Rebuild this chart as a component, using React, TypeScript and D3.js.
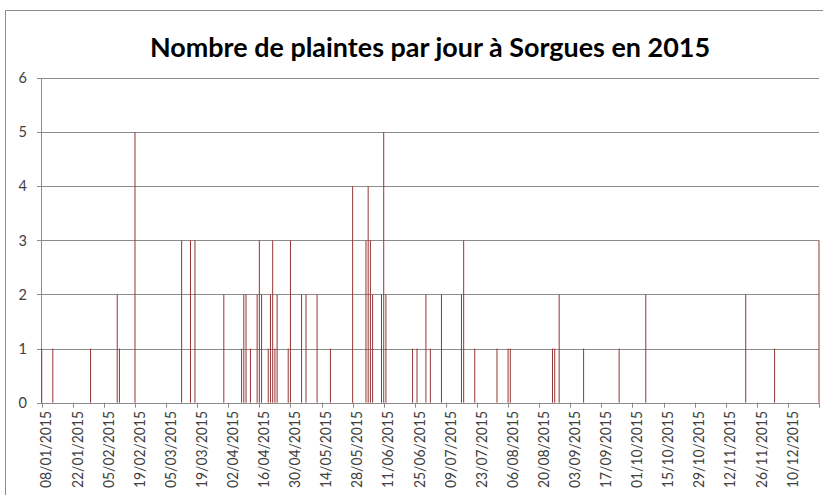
import React, { useEffect, useRef } from "react";
import * as d3 from "d3";

const chartTitle = "Nombre de plaintes par jour à Sorgues en 2015";

// jours avec au moins une plainte
const complaintDates = [
  "08/01/2015", "13/01/2015", "30/01/2015", "11/02/2015", "12/02/2015",
  "19/02/2015", "12/03/2015", "16/03/2015", "18/03/2015", "31/03/2015",
  "08/04/2015", "09/04/2015", "10/04/2015", "12/04/2015", "15/04/2015",
  "16/04/2015", "17/04/2015", "20/04/2015", "21/04/2015", "22/04/2015",
  "23/04/2015", "24/04/2015", "29/04/2015", "30/04/2015", "05/05/2015",
  "07/05/2015", "12/05/2015", "18/05/2015", "28/05/2015", "03/06/2015",
  "04/06/2015", "05/06/2015", "06/06/2015", "10/06/2015", "11/06/2015",
  "12/06/2015", "24/06/2015", "26/06/2015", "30/06/2015", "02/07/2015",
  "07/07/2015", "16/07/2015", "17/07/2015", "22/07/2015", "01/08/2015",
  "06/08/2015", "07/08/2015", "26/08/2015", "27/08/2015", "29/08/2015",
  "09/09/2015", "25/09/2015", "07/10/2015", "21/11/2015", "04/12/2015",
  "24/12/2015",
];

const complaintCounts = [
  1, 1, 1, 2, 1,
  5, 3, 3, 3, 2,
  1, 2, 2, 1, 2,
  3, 2, 1, 2, 3,
  1, 2, 1, 3, 2,
  2, 2, 1, 4, 3,
  4, 3, 2, 2, 5,
  2, 1, 1, 2, 1,
  2, 2, 3, 1, 1,
  1, 1, 1, 1, 2,
  1, 1, 2, 2, 1,
  3,
];

const axisStart = "08/01/2015";
const axisEnd = "24/12/2015";
const yTicks = [0, 1, 2, 3, 4, 5, 6];

const App = () => {
  const ref = useRef<SVGSVGElement | null>(null);

  useEffect(() => {
    const width = 823;
    const height = 495;
    const svg = d3.select(ref.current);
    svg.selectAll("*").remove();

    const parse = d3.utcParse("%d/%m/%Y");
    const fmt = d3.utcFormat("%d/%m/%Y");
    const table = complaintDates.map((d, i) => ({
      date: parse(d) as Date,
      count: complaintCounts[i],
    }));

    const start = parse(axisStart) as Date;
    const end = parse(axisEnd) as Date;
    const x = d3.scaleUtc().domain([start, end]).range([41.7, 819]);
    const y = d3.scaleLinear().domain([0, 6]).range([402.7, 78]);
    const grey = "#8c8c8c";

    svg.append("rect").attr("width", width).attr("height", height).attr("fill", "#fff");

    // cadre du graphique
    svg
      .append("path")
      .attr("d", `M5.5,${height} V10.5 H${width}`)
      .attr("fill", "none")
      .attr("stroke", grey);

    svg
      .append("text")
      .attr("x", 430)
      .attr("y", 57)
      .attr("text-anchor", "middle")
      .attr("font-family", "Lato, 'Open Sans', sans-serif")
      .attr("font-weight", "bold")
      .attr("font-size", 26)
      .attr("textLength", 560)
      .attr("lengthAdjust", "spacingAndGlyphs")
      .attr("fill", "#000")
      .text(chartTitle);

    // grille + axe Y
    const grid = svg.append("g");
    grid
      .selectAll("line")
      .data(yTicks)
      .enter()
      .append("line")
      .attr("x1", 37)
      .attr("x2", 819)
      .attr("y1", (v) => Math.round(y(v)) + 0.5)
      .attr("y2", (v) => Math.round(y(v)) + 0.5)
      .attr("stroke", grey);
    grid
      .append("line")
      .attr("x1", 41.5)
      .attr("x2", 41.5)
      .attr("y1", y(6))
      .attr("y2", y(0))
      .attr("stroke", grey);

    svg
      .append("g")
      .selectAll("text")
      .data(yTicks)
      .enter()
      .append("text")
      .attr("x", 27)
      .attr("y", (v) => y(v))
      .attr("dy", "0.36em")
      .attr("text-anchor", "end")
      .attr("font-family", "Lato, sans-serif")
      .attr("font-size", 14.5)
      .attr("fill", "#404040")
      .text((v) => v);

    // barres (une par jour)
    svg
      .append("g")
      .selectAll("rect")
      .data(table)
      .enter()
      .append("rect")
      .attr("x", (row) => x(row.date) - 0.5)
      .attr("y", (row) => y(row.count))
      .attr("width", 1)
      .attr("height", (row) => y(0) - y(row.count))
      .attr("fill", "#953735");

    // axe X: un repère tous les 14 jours
    const ticks = d3.utcDay.range(start, end, 14);
    const xAxis = svg.append("g");
    xAxis
      .selectAll("line")
      .data(ticks.concat([end]))
      .enter()
      .append("line")
      .attr("x1", (d) => Math.round(x(d)) + 0.5)
      .attr("x2", (d) => Math.round(x(d)) + 0.5)
      .attr("y1", y(0))
      .attr("y2", y(0) + 5)
      .attr("stroke", grey);
    xAxis
      .selectAll("text")
      .data(ticks)
      .enter()
      .append("text")
      .attr("transform", (d) => `translate(${x(d) + 4},411) rotate(-90)`)
      .attr("dy", "0.36em")
      .attr("text-anchor", "end")
      .attr("font-family", "Lato, sans-serif")
      .attr("font-size", 16)
      .attr("textLength", 77)
      .attr("lengthAdjust", "spacingAndGlyphs")
      .attr("fill", "#404040")
      .text((d) => fmt(d));
  }, []);

  return (
    <svg
      ref={ref}
      width={823}
      height={495}
      style={{ position: "absolute", left: 0, top: 0 }}
    ></svg>
  );
};

export default App;
